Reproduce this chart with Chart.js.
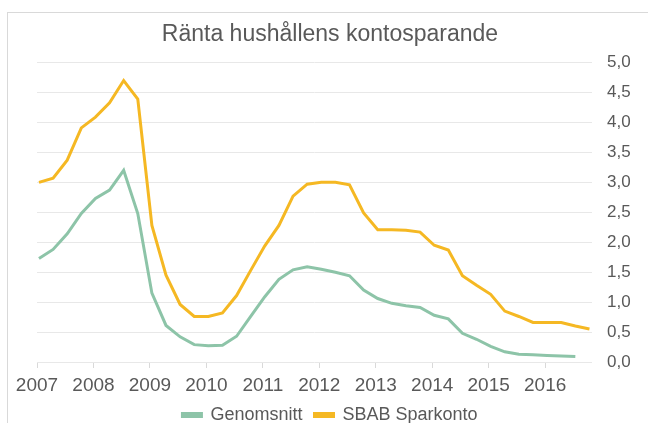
<!DOCTYPE html>
<html>
<head>
<meta charset="utf-8">
<script src="https://cdn.jsdelivr.net/npm/chart.js@4.4.1/dist/chart.umd.min.js"></script>
<style>
  html, body { margin: 0; padding: 0; background: #fff; overflow: hidden; }
  #wrap { position: relative; width: 648px; height: 423px; overflow: hidden; }
  #frame { position: absolute; left: 7px; top: 12px; width: 700px; height: 500px; border: 1px solid #d9d9d9; box-sizing: border-box; }
  canvas { position: absolute; left: 0; top: 0; }
</style>
</head>
<body>
<div id="wrap">
  <div id="frame"></div>
  <canvas id="c" width="648" height="434"></canvas>
</div>
<script>
const title = 'Ränta hushållens kontosparande';
const seriesNames = ['Genomsnitt', 'SBAB Sparkonto'];
const startYear = 2007;
const yearTicks = [2007, 2008, 2009, 2010, 2011, 2012, 2013, 2014, 2015, 2016];

// Quarterly observations, 2007 Q1 onward
const genomsnitt = [
  1.73, 1.88, 2.14, 2.48, 2.73, 2.87, 3.20, 2.48,
  1.15, 0.61, 0.42, 0.29, 0.27, 0.28, 0.43, 0.76,
  1.09, 1.38, 1.54, 1.59, 1.55, 1.50, 1.44, 1.20,
  1.06, 0.98, 0.94, 0.91, 0.78, 0.72, 0.48, 0.38,
  0.26, 0.17, 0.13, 0.12, 0.11, 0.10, 0.09
];
const sbab = [
  3.00, 3.07, 3.37, 3.91, 4.09, 4.33, 4.70, 4.39,
  2.28, 1.45, 0.96, 0.76, 0.76, 0.82, 1.11, 1.53,
  1.94, 2.28, 2.77, 2.97, 3.00, 3.00, 2.96, 2.49,
  2.21, 2.21, 2.20, 2.17, 1.95, 1.87, 1.44, 1.28,
  1.13, 0.85, 0.76, 0.66, 0.66, 0.66, 0.60, 0.55
];

const quarterPos = (i) => startYear + i * 0.25 + 0.035;
const toPoints = (arr) => arr.map((v, i) => ({ x: quarterPos(i), y: v }));

const gray = '#595959';
const font = "'Liberation Sans', Arial, sans-serif";

new Chart(document.getElementById('c'), {
  type: 'line',
  data: {
    datasets: [
      { label: seriesNames[0], data: toPoints(genomsnitt), borderColor: '#8DC4A8', backgroundColor: '#8DC4A8', borderWidth: 3, pointRadius: 0, tension: 0 },
      { label: seriesNames[1], data: toPoints(sbab), borderColor: '#F5B823', backgroundColor: '#F5B823', borderWidth: 3, pointRadius: 0, tension: 0 }
    ]
  },
  options: {
    responsive: false,
    animation: false,
    layout: { padding: { left: 27, right: 15, top: 0, bottom: 0 } },
    plugins: {
      title: { display: true, text: title, color: gray, font: { family: font, size: 23, weight: 'normal' }, padding: { top: 21, bottom: 14 } },
      legend: {
        position: 'bottom',
        labels: { color: gray, font: { family: font, size: 18 }, boxWidth: 19, boxHeight: 3, padding: 12 }
      },
      tooltip: { enabled: false }
    },
    scales: {
      x: {
        type: 'linear',
        min: startYear,
        max: 2016.83,
        afterBuildTicks: (s) => { s.ticks = yearTicks.map(v => ({ value: v })); },
        afterFit: (s) => { s.height = 32; },
        ticks: { color: gray, font: { family: font, size: 19 }, padding: 6, maxRotation: 0, autoSkip: false, callback: (v) => String(v) },
        grid: { drawOnChartArea: false, drawTicks: true, tickLength: 6, color: '#d9d9d9' },
        border: { display: false }
      },
      y: {
        position: 'right',
        min: 0,
        max: 5,
        afterFit: (s) => { s.width = 41; },
        ticks: { stepSize: 0.5, color: gray, font: { family: font, size: 17 }, padding: 15, callback: (v) => v.toFixed(1).replace('.', ',') },
        grid: { color: '#e8e8e8', drawTicks: false },
        border: { display: false }
      },
      spacer: {
        type: 'linear',
        position: 'left',
        min: 0,
        max: 5,
        afterFit: (s) => { s.width = 10; },
        ticks: { display: false },
        grid: { display: false },
        border: { display: false }
      }
    }
  }
});
</script>
</body>
</html>
